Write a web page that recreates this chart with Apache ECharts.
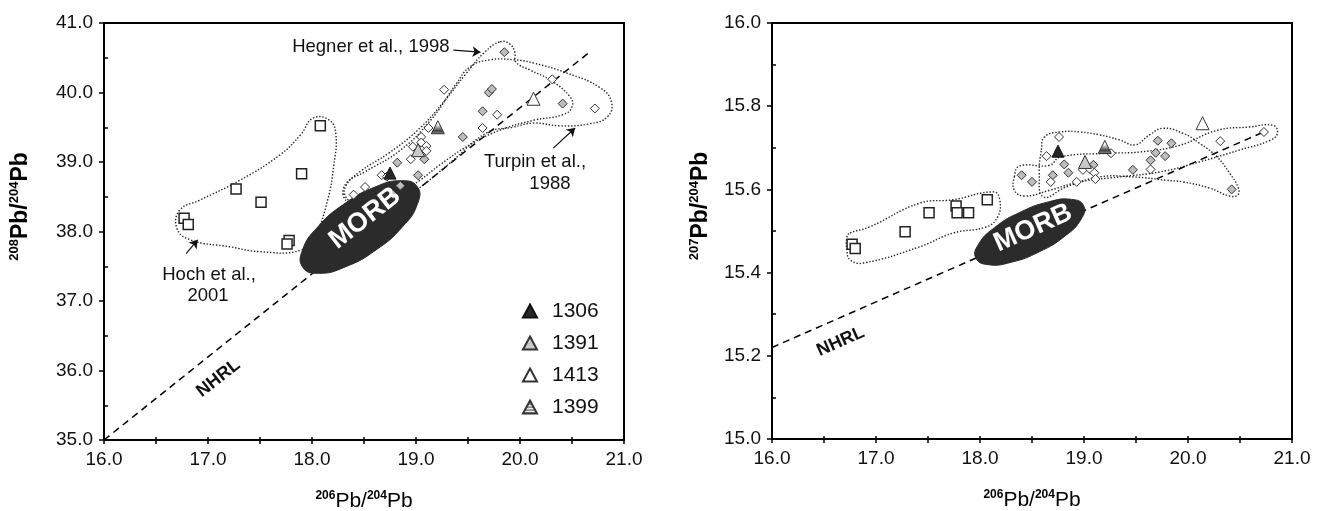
<!DOCTYPE html>
<html><head><meta charset="utf-8">
<script src="https://cdn.jsdelivr.net/npm/echarts@6/dist/echarts.min.js"></script>
<style>html,body{margin:0;padding:0;background:#fff}#c{width:1322px;height:511px}</style>
</head><body><div id="c"></div>
<script>
// ---------------- DATA ----------------
const xTicks = [16, 21];          // 206Pb/204Pb range
const yLeftRange = [35, 41];      // 208Pb/204Pb range
const yRightRange = [15, 16];     // 207Pb/204Pb range

// Left panel (208Pb/204Pb vs 206Pb/204Pb)
const leftSquares = [[18.08,39.52],[17.90,38.83],[17.27,38.61],[17.51,38.42],[16.77,38.19],[16.81,38.10],[17.78,37.87],[17.76,37.82]];
const leftGreyDiamonds = [[19.85,40.58],[19.70,40.00],[19.73,40.05],[19.64,39.73],[19.45,39.36],[19.08,39.04],[18.82,38.99],[19.02,38.81],[18.85,38.66],[18.78,38.53],[20.41,39.84]];
const leftOpenDiamonds = [[19.27,40.04],[19.78,39.68],[19.64,39.49],[19.12,39.49],[19.05,39.36],[19.05,39.28],[18.97,39.22],[19.10,39.23],[19.10,39.16],[18.95,39.04],[18.67,38.81],[18.72,38.79],[18.51,38.64],[18.40,38.53],[20.31,40.19],[20.72,39.77]];
const left1306 = [[18.75,38.84]];
const left1391 = [[19.02,39.17]];
const left1413 = [[20.13,39.91]];
const left1399 = [[19.21,39.50]];
const leftNHRL = [[16.0,35.0],[20.66,40.57]];
const leftMORB = [[19.013,38.643],[19.015,38.400],[18.871,38.069],[18.616,37.735],[18.319,37.490],[18.061,37.398],[17.911,37.486],[17.908,37.731],[18.052,38.060],[18.307,38.394],[18.604,38.639],[18.862,38.731]];
const leftHoch = [[18.01,39.63],[18.17,39.60],[18.23,39.39],[18.21,38.96],[18.15,38.45],[18.03,37.95],[17.89,37.73],[17.50,37.71],[17.21,37.78],[16.83,37.88],[16.70,38.05],[16.73,38.31],[16.92,38.45],[17.31,38.74],[17.69,39.10],[17.89,39.39]];
const leftHegner = [[19.81,40.73],[19.90,40.70],[19.95,40.58],[19.96,40.44],[20.10,40.32],[20.29,40.18],[20.48,39.94],[20.50,39.79],[20.41,39.68],[20.13,39.60],[19.81,39.46],[19.52,39.25],[19.23,38.96],[19.04,38.74],[18.85,38.57],[18.61,38.45],[18.41,38.42],[18.32,38.51],[18.33,38.67],[18.46,38.86],[18.75,39.14],[19.04,39.49],[19.28,39.89],[19.47,40.25],[19.66,40.58]];
const leftTurpin = [[18.30,38.53],[18.34,38.71],[18.51,38.86],[18.85,39.17],[19.14,39.60],[19.38,40.11],[19.52,40.37],[19.71,40.47],[19.95,40.47],[20.14,40.42],[20.45,40.28],[20.77,40.07],[20.88,39.86],[20.84,39.65],[20.67,39.55],[20.39,39.52],[20.13,39.56],[19.93,39.50],[19.68,39.42],[19.33,38.99],[19.01,38.60],[18.85,38.45],[18.56,38.38],[18.37,38.41]];

// Right panel (207Pb/204Pb vs 206Pb/204Pb)
const rightSquares = [[18.07,15.575],[17.77,15.560],[17.78,15.544],[17.89,15.544],[17.51,15.544],[17.28,15.498],[16.77,15.468],[16.80,15.458]];
const rightGreyDiamonds = [[18.81,15.660],[18.85,15.640],[18.70,15.634],[18.40,15.634],[18.50,15.618],[19.09,15.659],[19.47,15.647],[19.64,15.670],[19.69,15.688],[19.71,15.717],[19.84,15.711],[19.78,15.680],[20.42,15.600]];
const rightOpenDiamonds = [[18.76,15.726],[18.64,15.680],[18.68,15.618],[18.93,15.618],[18.99,15.647],[19.06,15.648],[19.10,15.640],[19.11,15.625],[19.26,15.687],[19.64,15.648],[20.31,15.716],[20.73,15.738]];
const right1306 = [[18.75,15.692]];
const right1391 = [[19.01,15.666]];
const right1413 = [[20.14,15.759]];
const right1399 = [[19.20,15.702]];
const rightNHRL = [[16.0,15.22],[20.70,15.735]];
const rightMORB = [[18.996,15.561],[18.974,15.529],[18.818,15.488],[18.570,15.450],[18.302,15.425],[18.079,15.419],[17.960,15.435],[17.983,15.467],[18.139,15.508],[18.386,15.545],[18.658,15.570],[18.881,15.576]];
const rightHoch = [[16.75,15.495],[16.94,15.510],[17.42,15.567],[17.74,15.575],[18.13,15.594],[18.19,15.575],[18.17,15.534],[18.06,15.510],[17.74,15.495],[17.42,15.462],[16.88,15.423],[16.75,15.431],[16.72,15.455],[16.72,15.486]];
const rightFieldA = [[18.59,15.695],[18.62,15.726],[18.77,15.738],[18.96,15.738],[19.15,15.731],[19.34,15.719],[19.49,15.707],[19.63,15.731],[19.76,15.747],[19.95,15.735],[20.11,15.711],[20.28,15.678],[20.40,15.639],[20.48,15.606],[20.48,15.587],[20.40,15.584],[20.21,15.603],[19.95,15.618],[19.79,15.622],[19.47,15.630],[19.15,15.630],[18.83,15.606],[18.61,15.582],[18.57,15.639]];
const rightFieldB = [[18.33,15.630],[18.38,15.656],[18.67,15.658],[18.77,15.678],[19.25,15.687],[19.54,15.690],[19.92,15.706],[20.28,15.742],[20.59,15.750],[20.82,15.754],[20.86,15.735],[20.79,15.718],[20.50,15.695],[20.11,15.666],[19.73,15.642],[19.34,15.630],[18.96,15.618],[18.67,15.598],[18.43,15.584],[18.33,15.598]];

const legendNames = ['1306','1391','1413','1399'];

// annotation anchors (text, [x,y], rotation, kind)
const leftTexts = [
  ['Hegner et al., 1998', [18.566,40.655], 0, 'n'],
  ['Turpin et al.,', [20.144,39.00], 0, 'n'],
  ['1988', [20.288,38.683], 0, 'n'],
  ['Hoch et al.,', [17.01,37.374], 0, 'n'],
  ['2001', [17.00,37.072], 0, 'n'],
  ['NHRL', [17.10,35.89], 38, 'b'],
  ['MORB', [18.51,38.19], 38, 'm']
];
const rightTexts = [
  ['NHRL', [16.66,15.234], 24, 'b'],
  ['MORB', [18.51,15.507], 24, 'm']
];
const leftArrows = [
  [[19.36,40.61],[19.62,40.58]],
  [[20.32,39.20],[20.53,39.49]],
  [[16.79,37.68],[16.90,37.88]]
];

// ---------------- CHART ----------------
const FONT = 'Arial, "Liberation Sans", sans-serif';
const INK = '#000';
const chart = echarts.init(document.getElementById('c'), null, {renderer:'canvas'});

const pc = document.createElement('canvas'); pc.width = 6; pc.height = 3;
const pctx = pc.getContext('2d');
pctx.fillStyle = '#fff'; pctx.fillRect(0,0,6,3);
pctx.fillStyle = '#444'; pctx.fillRect(0,0,6,1.2);
const stripe = {image: pc, repeat: 'repeat'};

const triStyles = {
  '1306': {color:'#262626', borderColor:'#111', borderWidth:1, opacity:1},
  '1391': {color:'#c8c8c8', borderColor:'#333', borderWidth:1, opacity:1},
  '1413': {color:'#ffffff', borderColor:'#333', borderWidth:1, opacity:1},
  '1399': {color: stripe, borderColor:'#333', borderWidth:1, opacity:1}
};

function axisName(sup1, sup2) {
  return '{s|' + sup1 + '}{p|Pb/}{s|' + sup2 + '}{p|Pb}';
}
function nameRich(bold, size) {
  return {
    s: {fontSize: Math.round(size*0.58), fontWeight: 'bold', fontFamily: FONT, color: INK, verticalAlign: 'top', lineHeight: size + 1},
    p: {fontSize: size, fontWeight: bold ? 'bold' : 'normal', fontFamily: FONT, color: INK, verticalAlign: 'bottom', lineHeight: size + 1}
  };
}

function xAxes(gi) {
  return [{
    gridIndex: gi, type:'value', min: xTicks[0], max: xTicks[1], interval: 1,
    axisLine: {show:true, onZero:false, lineStyle:{color:'#000', width:2}},
    axisTick: {show:true, inside:false, length:4, lineStyle:{color:'#000', width:1.5}},
    minorTick: {show:true, splitNumber:2, length:4, lineStyle:{color:'#000', width:1.5}},
    splitLine: {show:false},
    axisLabel: {formatter: v => v.toFixed(1), fontSize:19, fontFamily:FONT, color:'#111', margin:10},
    name: axisName('206','204'), nameLocation:'middle', nameGap: 50,
    nameTextStyle: {rich: nameRich(false, 21)}
  }, {
    gridIndex: gi, type:'value', min: xTicks[0], max: xTicks[1], interval: 0.5, position:'bottom', offset:0,
    axisLine: {show:false}, axisLabel:{show:false}, splitLine:{show:false},
    axisTick: {show:true, inside:true, length:3, lineStyle:{color:'#000', width:1.5}}
  }];
}
function yAxes(gi, range, interval, minorVals, sup) {
  return [{
    gridIndex: gi, type:'value', min: range[0], max: range[1], interval: interval,
    axisLine: {show:true, onZero:false, lineStyle:{color:'#000', width:2}},
    axisTick: {show:true, inside:false, length:5, lineStyle:{color:'#000', width:1.5}},
    splitLine: {show:false},
    axisLabel: {formatter: v => v.toFixed(1), fontSize:19, fontFamily:FONT, color:'#111', margin:11},
    name: axisName(sup,'204'), nameLocation:'middle', nameRotate:90, nameGap: gi === 0 ? 72 : 60,
    nameTextStyle: {rich: nameRich(true, 23), padding:[0,0,0,50]}
  }, {
    gridIndex: gi, type:'value', min: range[0], max: range[1], interval: interval/2, position:'left', offset:0,
    axisLine: {show:false}, axisLabel:{show:false}, splitLine:{show:false},
    axisTick: {show:true, inside:true, length:4, customValues: minorVals, lineStyle:{color:'#000', width:1.5}}
  }];
}

function scatter(name, data, gi, symbol, size, itemStyle, z) {
  return {name, type:'scatter', xAxisIndex: gi*2, yAxisIndex: gi*2, data, symbol, symbolSize: size,
    itemStyle: Object.assign({opacity:1}, itemStyle), z: z || 5, silent:true, animation:false};
}
function outline(pts, gi, filled) {
  return {type:'custom', xAxisIndex: gi*2, yAxisIndex: gi*2, data: pts, z: filled ? 3 : 2, silent:true, animation:false,
    renderItem: function(params, api) {
      if (params.dataIndex !== 0) return null;
      const points = pts.map(p => api.coord(p));
      return {type:'polygon', shape:{points, smooth: filled ? 0.5 : 0.45},
        style: filled ? {fill:'#2b2b2b', stroke:'#2b2b2b', lineWidth:1}
                      : {fill:null, stroke:'#222', lineWidth:1.4, lineDash:[1.4,1.8]}};
    }};
}
function line(pts, gi) {
  return {type:'line', xAxisIndex: gi*2, yAxisIndex: gi*2, data: pts, symbol:'none', silent:true, animation:false, z:1,
    lineStyle:{color:'#000', width:1.5, type:[7,5]}};
}
function texts(list, gi) {
  return {type:'scatter', xAxisIndex: gi*2, yAxisIndex: gi*2, symbolSize:1, silent:true, animation:false, z:10,
    itemStyle:{color:'rgba(0,0,0,0)', opacity:1},
    data: list.map(t => ({value: t[1], label: {
      show:true, position:'inside', formatter: t[0], rotate: t[2], align:'center', verticalAlign:'middle',
      fontFamily: FONT,
      fontSize: t[3] === 'm' ? 27 : (t[3] === 'b' ? 18 : 18.5),
      fontWeight: t[3] === 'n' ? 'normal' : 'bold',
      color: t[3] === 'm' ? '#fff' : '#111'
    }}))};
}

const leftMinor = [35.5,36.5,37.5,38.5,39.5,40.5];
const rightMinor = [15.1,15.3,15.5,15.7,15.9];

const series = [];
// left panel
series.push(line(leftNHRL, 0));
series.push(outline(leftHoch, 0, false));
series.push(outline(leftHegner, 0, false));
series.push(outline(leftTurpin, 0, false));
series.push(outline(leftMORB, 0, true));
series.push(scatter('sq', leftSquares, 0, 'rect', 10, {color:'#fff', borderColor:'#222', borderWidth:1.5}));
series.push(scatter('gd', leftGreyDiamonds, 0, 'diamond', 9, {color:'#bdbdbd', borderColor:'#333', borderWidth:1}));
series.push(scatter('od', leftOpenDiamonds, 0, 'diamond', 9, {color:'#fff', borderColor:'#333', borderWidth:1}));
series.push(scatter('1306', left1306, 0, 'triangle', 12, triStyles['1306'], 6));
series.push(scatter('1391', left1391, 0, 'triangle', 13, triStyles['1391'], 6));
series.push(scatter('1413', left1413, 0, 'triangle', 13, triStyles['1413'], 6));
series.push(scatter('1399', left1399, 0, 'triangle', 13, triStyles['1399'], 6));
series.push({type:'lines', coordinateSystem:'cartesian2d', xAxisIndex:0, yAxisIndex:0, silent:true, animation:false, z:4,
  symbol:['none','arrow'], symbolSize:[0,8],
  lineStyle:{color:'#111', width:1.2, opacity:1},
  data: leftArrows.map(a => ({coords: a}))});
series.push(texts(leftTexts, 0));
// right panel
series.push(line(rightNHRL, 1));
series.push(outline(rightHoch, 1, false));
series.push(outline(rightFieldA, 1, false));
series.push(outline(rightFieldB, 1, false));
series.push(outline(rightMORB, 1, true));
series.push(scatter('sq', rightSquares, 1, 'rect', 10, {color:'#fff', borderColor:'#222', borderWidth:1.5}));
series.push(scatter('gd', rightGreyDiamonds, 1, 'diamond', 9, {color:'#bdbdbd', borderColor:'#333', borderWidth:1}));
series.push(scatter('od', rightOpenDiamonds, 1, 'diamond', 9, {color:'#fff', borderColor:'#333', borderWidth:1}));
series.push(scatter('1306', right1306, 1, 'triangle', 12, triStyles['1306'], 6));
series.push(scatter('1391', right1391, 1, 'triangle', 13, triStyles['1391'], 6));
series.push(scatter('1413', right1413, 1, 'triangle', 13, triStyles['1413'], 6));
series.push(scatter('1399', right1399, 1, 'triangle', 13, triStyles['1399'], 6));
series.push(texts(rightTexts, 1));

chart.setOption({
  animation: false,
  backgroundColor: '#fff',
  grid: [
    {left:104, top:23, width:520, height:417, show:true, borderColor:'#000', borderWidth:2, backgroundColor:'transparent', containLabel:false, outerBoundsMode:'none'},
    {left:772, top:23, width:520, height:416, show:true, borderColor:'#000', borderWidth:2, backgroundColor:'transparent', containLabel:false, outerBoundsMode:'none'}
  ],
  xAxis: [...xAxes(0), ...xAxes(1)],
  yAxis: [...yAxes(0, yLeftRange, 1, leftMinor, '208'), ...yAxes(1, yRightRange, 0.2, rightMinor, '207')],
  legend: {
    orient:'vertical', left: 517, top: 295, itemGap: 10, itemWidth: 14, itemHeight: 13,
    selectedMode: false,
    data: legendNames.map(n => ({name: n, icon: 'triangle'})),
    textStyle: {fontSize: 21, fontFamily: FONT, color: '#111', lineHeight: 22, padding:[0,0,0,10]}
  },
  series
});
</script></body></html>
